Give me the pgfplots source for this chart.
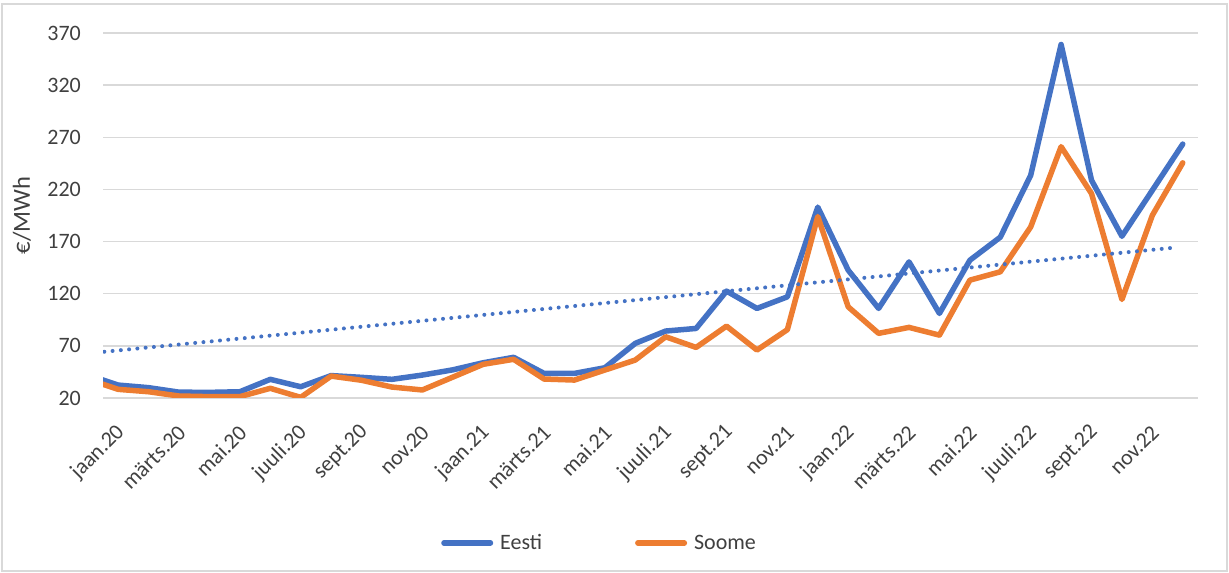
\documentclass[border=0pt]{standalone}
\usepackage{pgfplots}
\pgfplotsset{compat=1.18}
\usepackage{fontspec}
\setmainfont{Carlito}
\definecolor{eesti}{HTML}{4472C4}
\definecolor{soome}{HTML}{ED7D31}
\definecolor{gridgray}{HTML}{D9D9D9}
\definecolor{txt}{HTML}{404040}

\begin{document}
\begin{tikzpicture}
\useasboundingbox (0,0) rectangle (1229bp,573bp);
\draw[gridgray, line width=1.2bp] (2bp,2bp) rectangle (1227bp,569bp);
\begin{axis}[
  at={(103bp,175bp)}, anchor=south west,
  scale only axis, width=1095bp, height=365bp,
  xmin=-0.5, xmax=35.5, ymin=20, ymax=370,
  ytick={20,70,...,370},
  xtick={0,2,...,34},
  xticklabels={jaan.20,märts.20,mai.20,juuli.20,sept.20,nov.20,
               jaan.21,märts.21,mai.21,juuli.21,sept.21,nov.21,
               jaan.22,märts.22,mai.22,juuli.22,sept.22,nov.22},
  axis line style={draw=none}, major tick length=0pt,
  ymajorgrids, grid style={gridgray, line width=1.3bp},
  /pgf/number format/assume math mode=true,
  tick label style={text=txt, font=\fontsize{22bp}{26bp}\selectfont},
  yticklabel style={inner sep=0pt, anchor=east, xshift=-22bp},
  xticklabel style={inner sep=0pt, xshift=3bp, yshift=-31bp, rotate=45, anchor=east},
  ylabel={€/MWh},
  every axis y label/.style={at={(axis description cs:0,0.5)}, xshift=-81bp,
    rotate=90, anchor=center, text=txt, font=\fontsize{24.5bp}{28bp}\selectfont},
  legend style={at={(axis description cs:0.3087,-0.397)}, anchor=west, draw=none,
    inner sep=0pt, font=\fontsize{22bp}{26bp}\selectfont, text=txt,
    /tikz/every even column/.append style={column sep=91bp}},
  legend columns=-1,
  legend image code/.code={\draw[#1, line cap=round] (0bp,0bp) -- (46.5bp,0bp);
    \path (51.5bp,0bp);},
]
% Eesti
\addplot[eesti, line width=5.5bp, line join=round, line cap=round] coordinates {
(-1,42) (0,32.4) (1,29.9) (2,25.6) (3,25.4) (4,26) (5,37.9) (6,30.8) (7,41.5)
(8,39.8) (9,37.9) (10,42) (11,47) (12,53.8) (13,59) (14,43.6) (15,43.6)
(16,49) (17,72.4) (18,84.2) (19,86.7) (20,122.5) (21,105.9) (22,117)
(23,203) (24,142.6) (25,105.9) (26,150.5) (27,101.1) (28,152.1) (29,174.2)
(30,233.5) (31,359) (32,228.8) (33,175.1) (34,219.2) (35,263.5)
};
\addlegendentry{Eesti}
% Soome
\addplot[soome, line width=5.5bp, line join=round, line cap=round] coordinates {
(-1,38) (0,28.3) (1,26) (2,21.9) (3,21.3) (4,21.3) (5,29.3) (6,20.6) (7,41)
(8,37) (9,30.5) (10,27.7) (11,40) (12,52.3) (13,57.1) (14,38.2) (15,37.2)
(16,46.8) (17,56.4) (18,78.7) (19,68.5) (20,88.9) (21,66) (22,85.5)
(23,194) (24,107.4) (25,82) (26,87.7) (27,80.3) (28,133) (29,141)
(30,184) (31,261) (32,216) (33,114.5) (34,195.2) (35,245.5)
};
\addlegendentry{Soome}
% linear trend of Eesti
\addplot[eesti, line width=4bp, line cap=round, dash pattern=on 0bp off 8.3bp, forget plot]
  coordinates {(-1,62.8) (34.77,164.3)};
\end{axis}
\end{tikzpicture}
\end{document}
